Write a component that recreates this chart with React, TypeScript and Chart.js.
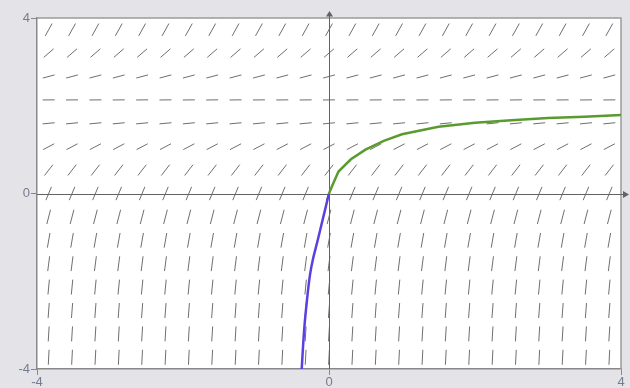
import React, { useEffect, useRef } from "react";
import { Chart, registerables } from "chart.js";
Chart.register(...registerables);

const fieldX = [-3.84, -3.52, -3.2, -2.88, -2.56, -2.24, -1.92, -1.6, -1.28, -0.96, -0.64, -0.32, 0, 0.32, 0.64, 0.96, 1.28, 1.6, 1.92, 2.24, 2.56, 2.88, 3.2, 3.52, 3.84];
const fieldY = [-3.733, -3.2, -2.667, -2.133, -1.6, -1.067, -0.533, 0, 0.533, 1.067, 1.6, 2.133, 2.667, 3.2, 3.733];
const rowSlopes = [32.9, 27.0, 21.8, 17.1, 12.96, 9.39, 6.4, 4.0, 2.15, 0.87, 0.16, 0.018, 0.44, 1.44, 3.0];

const greenX = [0, 0.05, 0.13, 0.3, 0.5, 0.75, 1, 1.5, 2, 2.5, 3, 3.5, 4];
const greenY = [0, 0.2, 0.5, 0.78, 1.0, 1.2, 1.35, 1.52, 1.61, 1.67, 1.72, 1.75, 1.79];
const blueX = [0, -0.08, -0.16, -0.22, -0.26, -0.3, -0.34, -0.374];
const blueY = [0, -0.55, -1.1, -1.5, -1.85, -2.4, -3.1, -4.0];

const xTicks = [-4, 0, 4];
const yTicks = [-4, 0, 4];

const fieldPlugin = {
  id: "fieldPlugin",
  beforeDraw(chart: any) {
    const { ctx, chartArea: a } = chart;
    ctx.save();
    ctx.fillStyle = "#e4e3e8";
    ctx.fillRect(0, 0, chart.width, chart.height);
    ctx.fillStyle = "#ffffff";
    ctx.fillRect(a.left, a.top, a.right - a.left, a.bottom - a.top);
    ctx.restore();
  },
  beforeDatasetsDraw(chart: any) {
    const { ctx, chartArea: a, scales } = chart;
    const xs = scales.x, ys = scales.y;
    const pxPerX = Math.abs(xs.getPixelForValue(1) - xs.getPixelForValue(0));
    const pxPerY = Math.abs(ys.getPixelForValue(1) - ys.getPixelForValue(0));
    ctx.save();
    ctx.strokeStyle = "#9a9a9a";
    ctx.lineWidth = 1.5;
    ctx.beginPath();
    ctx.moveTo(a.left, a.top);
    ctx.lineTo(a.right, a.top);
    ctx.lineTo(a.right, a.bottom);
    ctx.stroke();
    ctx.strokeStyle = "#6f6f6f";
    ctx.lineWidth = 1;
    const ha = 6, hb = 7.5;
    fieldY.forEach((fy, j) => {
      const s = rowSlopes[j];
      const dx = pxPerX, dy = -s * pxPerY;
      const n = Math.hypot(dx, dy);
      const c = dx / n, sn = dy / n;
      const r = 1 / Math.sqrt((c * c) / (ha * ha) + (sn * sn) / (hb * hb));
      fieldX.forEach((fx) => {
        const cx = xs.getPixelForValue(fx), cy = ys.getPixelForValue(fy);
        ctx.beginPath();
        ctx.moveTo(cx - c * r, cy - sn * r);
        ctx.lineTo(cx + c * r, cy + sn * r);
        ctx.stroke();
      });
    });
    const x0 = xs.getPixelForValue(0), y0 = ys.getPixelForValue(0);
    ctx.strokeStyle = "#626262";
    ctx.fillStyle = "#626262";
    ctx.lineWidth = 1;
    const yy = Math.round(y0) + 0.5, xx = Math.round(x0) + 0.5;
    ctx.beginPath();
    ctx.moveTo(a.left, yy);
    ctx.lineTo(a.right + 3, yy);
    ctx.moveTo(xx, a.bottom);
    ctx.lineTo(xx, a.top - 2);
    ctx.stroke();
    ctx.beginPath();
    ctx.moveTo(a.right + 8, yy);
    ctx.lineTo(a.right + 2, yy - 3.5);
    ctx.lineTo(a.right + 2, yy + 3.5);
    ctx.closePath();
    ctx.fill();
    ctx.beginPath();
    ctx.moveTo(xx, a.top - 7);
    ctx.lineTo(xx - 3.5, a.top - 1.5);
    ctx.lineTo(xx + 3.5, a.top - 1.5);
    ctx.closePath();
    ctx.fill();
    ctx.restore();
  },
};

export default function App() {
  const ref = useRef<HTMLCanvasElement>(null);
  useEffect(() => {
    document.body.style.margin = "0";
    const tickFont = { family: "Liberation Sans, Arial, sans-serif", size: 13 };
    const chart = new Chart(ref.current!, {
      type: "scatter",
      data: {
        datasets: [
          {
            data: greenX.map((x, i) => ({ x, y: greenY[i] })),
            showLine: true,
            borderColor: "#5a9b2f",
            borderWidth: 2.5,
            pointRadius: 0,
            tension: 0,
          },
          {
            data: blueX.map((x, i) => ({ x, y: blueY[i] })),
            showLine: true,
            borderColor: "#5c3fe0",
            borderWidth: 2.5,
            pointRadius: 0,
            tension: 0.3,
          },
        ],
      },
      options: {
        animation: false,
        responsive: false,
        maintainAspectRatio: false,
        layout: { padding: { top: 18, right: 9, left: 0, bottom: 0 } },
        plugins: { legend: { display: false }, tooltip: { enabled: false } },
        scales: {
          x: {
            type: "linear",
            min: -4,
            max: 4,
            afterBuildTicks: (s: any) => {
              s.ticks = xTicks.map((v) => ({ value: v }));
            },
            afterFit: (s: any) => {
              s.height = 19;
            },
            ticks: { color: "#767c90", font: tickFont, padding: 0, maxRotation: 0, autoSkip: false },
            grid: { drawOnChartArea: false, tickLength: 6, color: "#888888" },
            border: { color: "#888888", width: 1.5 },
          },
          y: {
            type: "linear",
            min: -4,
            max: 4,
            afterBuildTicks: (s: any) => {
              s.ticks = yTicks.map((v) => ({ value: v }));
            },
            afterFit: (s: any) => {
              s.width = 37;
            },
            ticks: { color: "#767c90", font: tickFont, padding: 1, autoSkip: false },
            grid: { drawOnChartArea: false, tickLength: 6, color: "#888888" },
            border: { color: "#888888", width: 1.5 },
          },
        },
      },
      plugins: [fieldPlugin],
    });
    return () => chart.destroy();
  }, []);
  return <canvas ref={ref} width={630} height={388} style={{ display: "block" }} />;
}
